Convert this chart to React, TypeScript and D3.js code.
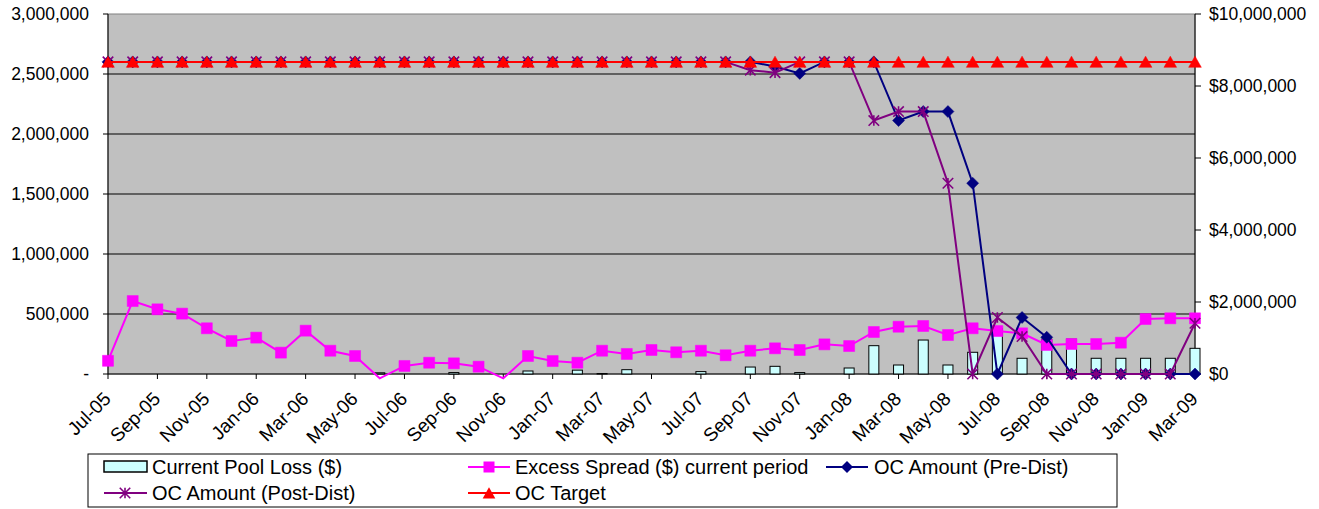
import React from "react";
import * as d3 from "d3";

// Monthly periods shown on the category axis
const months = [
  "Jul-05", "Aug-05", "Sep-05", "Oct-05", "Nov-05", "Dec-05",
  "Jan-06", "Feb-06", "Mar-06", "Apr-06", "May-06", "Jun-06",
  "Jul-06", "Aug-06", "Sep-06", "Oct-06", "Nov-06", "Dec-06",
  "Jan-07", "Feb-07", "Mar-07", "Apr-07", "May-07", "Jun-07",
  "Jul-07", "Aug-07", "Sep-07", "Oct-07", "Nov-07", "Dec-07",
  "Jan-08", "Feb-08", "Mar-08", "Apr-08", "May-08", "Jun-08",
  "Jul-08", "Aug-08", "Sep-08", "Oct-08", "Nov-08", "Dec-08",
  "Jan-09", "Feb-09", "Mar-09",
];

// Primary (left) axis series
const poolLoss = [
  0, 0, 0, 0, 0, 0, 0, 0, 0, 0, 0, 10000,
  0, 0, 12000, 0, 0, 25000, 0, 32000, 4000, 36000, 0, 0,
  20000, 0, 58000, 64000, 12000, 0, 50000, 236000, 75000, 283000, 75000, 181000,
  380000, 131000, 290000, 290000, 131000, 131000, 131000, 131000, 214000,
];
const excessSpread = [
  110000, 608000, 539000, 503000, 381000, 275000, 303000, 178000, 361000, 194000, 150000, -36000,
  67000, 94000, 89000, 61000, -36000, 150000, 108000, 94000, 194000, 167000, 200000, 181000,
  194000, 156000, 194000, 214000, 200000, 247000, 233000, 350000, 394000, 400000, 325000, 381000,
  358000, 339000, 242000, 250000, 250000, 261000, 458000, 464000, 464000,
];

// Secondary (right, $) axis series
const ocPreDist = [
  8670000, 8670000, 8670000, 8670000, 8670000, 8670000, 8670000, 8670000, 8670000, 8670000, 8670000, 8670000,
  8670000, 8670000, 8670000, 8670000, 8670000, 8670000, 8670000, 8670000, 8670000, 8670000, 8670000, 8670000,
  8670000, 8670000, 8670000, 8540000, 8350000, 8670000, 8670000, 8670000, 7040000, 7290000, 7290000, 5300000,
  0, 1570000, 1020000, 0, 0, 0, 0, 0, 0,
];
const ocPostDist = [
  8670000, 8670000, 8670000, 8670000, 8670000, 8670000, 8670000, 8670000, 8670000, 8670000, 8670000, 8670000,
  8670000, 8670000, 8670000, 8670000, 8670000, 8670000, 8670000, 8670000, 8670000, 8670000, 8670000, 8670000,
  8670000, 8670000, 8440000, 8370000, 8670000, 8670000, 8670000, 7040000, 7290000, 7290000, 5300000, 0,
  1570000, 1040000, 0, 0, 0, 0, 0, 0, 1410000,
];
const ocTarget = [
  8670000, 8670000, 8670000, 8670000, 8670000, 8670000, 8670000, 8670000, 8670000, 8670000, 8670000, 8670000,
  8670000, 8670000, 8670000, 8670000, 8670000, 8670000, 8670000, 8670000, 8670000, 8670000, 8670000, 8670000,
  8670000, 8670000, 8670000, 8670000, 8670000, 8670000, 8670000, 8670000, 8670000, 8670000, 8670000, 8670000,
  8670000, 8670000, 8670000, 8670000, 8670000, 8670000, 8670000, 8670000, 8670000,
];

const leftTicks = [0, 500000, 1000000, 1500000, 2000000, 2500000, 3000000];
const rightTicks = [0, 2000000, 4000000, 6000000, 8000000, 10000000];

const legendRow1 = ["Current Pool Loss ($)", "Excess Spread ($) current period", "OC Amount (Pre-Dist)"];
const legendRow2 = ["OC Amount (Post-Dist)", "OC Target"];

const W = 1319;
const H = 509;
const FONT = "'Liberation Sans', Arial, sans-serif";
const FS = 17.5;
const XLABEL_FS = 19;
const LEGEND_FS = 20;

const PINK = "#FF00FF";
const NAVY = "#000080";
const PURPLE = "#800080";
const RED = "#FF0000";

// Custom marker shapes
const diamondType = {
  draw(ctx: any, size: number) {
    const r = Math.sqrt(size) / 2;
    ctx.moveTo(0, -r);
    ctx.lineTo(r, 0);
    ctx.lineTo(0, r);
    ctx.lineTo(-r, 0);
    ctx.closePath();
  },
};
const triangleType = {
  draw(ctx: any, size: number) {
    const r = Math.sqrt(size) / 2;
    ctx.moveTo(0, -r);
    ctx.lineTo(r * 1.1, r * 0.95);
    ctx.lineTo(-r * 1.1, r * 0.95);
    ctx.closePath();
  },
};
const starType = {
  draw(ctx: any, size: number) {
    const r = Math.sqrt(size) / 2;
    ctx.moveTo(-r, -r);
    ctx.lineTo(r, r);
    ctx.moveTo(r, -r);
    ctx.lineTo(-r, r);
    ctx.moveTo(0, -r);
    ctx.lineTo(0, r);
  },
};

const squarePath = d3.symbol(d3.symbolSquare, 121)() as string;
const diamondPath = d3.symbol(diamondType as any, 144)() as string;
const trianglePath = d3.symbol(triangleType as any, 132)() as string;
const starPath = d3.symbol(starType as any, 110)() as string;

export default function App() {
  const plot = { left: 108, right: 1195, top: 14, bottom: 374 };
  const x = d3.scalePoint<string>().domain(months).range([plot.left, plot.right]);
  const yL = d3.scaleLinear().domain([0, 3000000]).range([plot.bottom, plot.top]);
  const yR = d3.scaleLinear().domain([0, 10000000]).range([plot.bottom, plot.top]);

  const lineL = d3
    .line<number>()
    .x((_, i) => x(months[i]) as number)
    .y((d) => yL(d));
  const lineR = d3
    .line<number>()
    .x((_, i) => x(months[i]) as number)
    .y((d) => yR(d));

  const barW = 10;
  const fmtL = (d: number) => (d === 0 ? "-" : d3.format(",")(d));
  const fmtR = d3.format("$,");

  const labelMonths = months.filter((_, i) => i % 2 === 0);

  const markers = (vals: number[], y: (v: number) => number, path: string, color: string, kind: "fill" | "stroke") =>
    vals.map((v, i) =>
      v < 0 ? null : (
        <path
          key={i}
          d={path}
          transform={`translate(${x(months[i])},${y(v)})`}
          fill={kind === "fill" ? color : "none"}
          stroke={color}
          strokeWidth={kind === "fill" ? 0.5 : 1.6}
        />
      )
    );

  return (
    <svg
      width={W}
      height={H}
      style={{ position: "absolute", left: 0, top: 0, background: "#fff" }}
      fontFamily={FONT}
      fontSize={FS}
    >
      {/* plot background */}
      <rect
        x={plot.left}
        y={plot.top}
        width={plot.right - plot.left}
        height={plot.bottom - plot.top}
        fill="#C0C0C0"
        stroke="#808080"
        strokeWidth={1}
      />
      {/* gridlines from the left axis */}
      {leftTicks.slice(1, -1).map((t) => (
        <line key={t} x1={plot.left} x2={plot.right} y1={yL(t)} y2={yL(t)} stroke="#000" strokeWidth={1} />
      ))}

      {/* left axis */}
      <line x1={plot.left} x2={plot.left} y1={plot.top} y2={plot.bottom} stroke="#000" />
      {leftTicks.map((t) => (
        <g key={t}>
          <line x1={plot.left - 5} x2={plot.left} y1={yL(t)} y2={yL(t)} stroke="#000" />
          <text x={89} y={yL(t)} dy="0.35em" textAnchor="end" fill="#000">
            {fmtL(t)}
          </text>
        </g>
      ))}

      {/* right axis */}
      <line x1={plot.right} x2={plot.right} y1={plot.top} y2={plot.bottom} stroke="#000" />
      {rightTicks.map((t) => (
        <g key={t}>
          <line x1={plot.right} x2={plot.right + 6} y1={yR(t)} y2={yR(t)} stroke="#000" />
          <text x={1209} y={yR(t)} dy="0.35em" textAnchor="start" fill="#000">
            {fmtR(t)}
          </text>
        </g>
      ))}

      {/* bottom axis */}
      <line x1={plot.left} x2={plot.right} y1={plot.bottom} y2={plot.bottom} stroke="#000" />
      {labelMonths.map((m) => (
        <g key={m}>
          <line x1={x(m)} x2={x(m)} y1={plot.bottom} y2={plot.bottom + 5} stroke="#000" />
          <text
            transform={`translate(${(x(m) as number) + 4},${plot.bottom + 26}) rotate(-45)`}
            textAnchor="end"
            fontSize={XLABEL_FS}
            fill="#000"
          >
            {m}
          </text>
        </g>
      ))}

      {/* current pool loss columns */}
      {poolLoss.map((v, i) =>
        v > 0 ? (
          <rect
            key={i}
            x={(x(months[i]) as number) - barW / 2}
            y={yL(v)}
            width={barW}
            height={yL(0) - yL(v)}
            fill="#CCFFFF"
            stroke="#000"
            strokeWidth={1}
          />
        ) : null
      )}

      {/* excess spread */}
      <path d={lineL(excessSpread) as string} fill="none" stroke={PINK} strokeWidth={2} />
      {markers(excessSpread, yL, squarePath, PINK, "fill")}

      {/* OC pre-distribution */}
      <path d={lineR(ocPreDist) as string} fill="none" stroke={NAVY} strokeWidth={2} />
      {markers(ocPreDist, yR, diamondPath, NAVY, "fill")}

      {/* OC post-distribution */}
      <path d={lineR(ocPostDist) as string} fill="none" stroke={PURPLE} strokeWidth={2} />
      {markers(ocPostDist, yR, starPath, PURPLE, "stroke")}

      {/* OC target */}
      <path d={lineR(ocTarget) as string} fill="none" stroke={RED} strokeWidth={2} />
      {markers(ocTarget, yR, trianglePath, RED, "fill")}

      {/* legend */}
      <rect x={88} y={454} width={1029} height={53} fill="#fff" stroke="#000" strokeWidth={1} />
      <g fontSize={LEGEND_FS}>
        <rect x={104} y={461} width={43} height={11} fill="#CCFFFF" stroke="#000" strokeWidth={1.5} />
        <text x={152} y={467} dy="0.35em" fill="#000">{legendRow1[0]}</text>

        <line x1={468} x2={510} y1={467} y2={467} stroke={PINK} strokeWidth={2} />
        <path d={squarePath} transform="translate(489,467)" fill={PINK} />
        <text x={515} y={467} dy="0.35em" fill="#000">{legendRow1[1]}</text>

        <line x1={826} x2={868} y1={467} y2={467} stroke={NAVY} strokeWidth={2} />
        <path d={diamondPath} transform="translate(847,467)" fill={NAVY} />
        <text x={874} y={467} dy="0.35em" fill="#000">{legendRow1[2]}</text>

        <line x1={104} x2={147} y1={493} y2={493} stroke={PURPLE} strokeWidth={2} />
        <path d={starPath} transform="translate(125,493)" fill="none" stroke={PURPLE} strokeWidth={1.6} />
        <text x={152} y={493} dy="0.35em" fill="#000">{legendRow2[0]}</text>

        <line x1={468} x2={510} y1={493} y2={493} stroke={RED} strokeWidth={2} />
        <path d={trianglePath} transform="translate(489,493)" fill={RED} />
        <text x={515} y={493} dy="0.35em" fill="#000">{legendRow2[1]}</text>
      </g>
    </svg>
  );
}
